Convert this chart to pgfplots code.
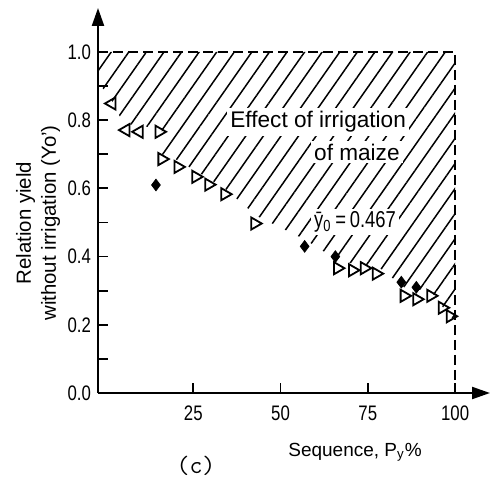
\documentclass[border=0pt]{standalone}
\usepackage{fontspec}
\setmainfont{Liberation Sans}
\newfontfamily\narrowfont[FakeStretch=0.8]{Liberation Sans}
\usepackage{pgfplots}
\pgfplotsset{compat=1.18}
\usetikzlibrary{arrows.meta,patterns.meta}

\begin{document}
\begin{tikzpicture}
\path[use as bounding box] (-49pt,-47pt) rectangle (199.5pt,196.5pt);
\begin{axis}[
    scale only axis, width=196pt, height=192.5pt,
    xmin=-2.3, xmax=110, ymin=0, ymax=1.129,
    axis lines=left,
    axis line style={line width=1.1pt, -{Triangle[length=9pt,width=6pt]}},
    tick align=inside,
    major tick length=5pt, minor tick length=5pt,
    tick style={line width=0.9pt, black},
    xtick={25,50,75,100},
    ytick={0,0.2,0.4,0.6,0.8,1.0},
    minor ytick={0.1,0.3,0.5,0.7,0.9},
    yticklabel style={/pgf/number format/.cd, fixed, fixed zerofill, precision=1},
    /pgf/number format/assume math mode=true,
    ticklabel style={font=\narrowfont\fontsize{10.5}{12}\selectfont},
    xticklabel style={yshift=-3pt},
    clip=false,
]
% hatched area: effect of irrigation
\addplot[draw=none, pattern={Lines[angle=55,distance=7.2pt,line width=0.75pt]}]
    coordinates {(-2.3,1.0)(100,1.0)(100,0.21)(97,0.245)(93,0.30)(86,0.305)(78,0.37)
    (67,0.385)(57,0.45)(43,0.52)(34,0.60)(26,0.65)(20,0.685)(16,0.70)(16,0.775)
    (5,0.79)(1,0.87)(-2.3,0.91)} -- cycle;
% dashed bounds
\addplot[black, line width=0.8pt, dash pattern=on 5pt off 2.5pt]
    coordinates {(-2.3,1.0)(100,1.0)(100,0)};
% left-pointing triangles
\addplot[only marks, mark=triangle, mark size=3.5pt,
    mark options={rotate=90, line width=0.9pt, fill=white}]
    coordinates {(1.7,0.849)(5.7,0.771)(9.5,0.766)};
% right-pointing triangles
\addplot[only marks, mark=triangle, mark size=3.5pt,
    mark options={rotate=-90, line width=0.9pt, fill=white}]
    coordinates {(15.2,0.766)(16,0.686)(20.6,0.663)(25.7,0.634)(29.4,0.611)(34,0.583)
    (42.6,0.497)(66.3,0.366)(70.6,0.36)(74,0.366)(77.4,0.35)
    (85.4,0.285)(89,0.275)(93,0.285)(96.3,0.25)(98.6,0.225)};
% filled diamonds
\addplot[only marks, mark=diamond*, mark size=2.9pt, black]
    coordinates {(14.3,0.61)(56.9,0.43)(65.7,0.40)(84.6,0.325)(88.9,0.31)};
\end{axis}

\node[anchor=west, fill=white, inner sep=1.5pt, font=\fontsize{11.3}{13}\selectfont]
    at (64.5pt,135.5pt) {Effect of irrigation};
\node[anchor=east, fill=white, inner sep=1.5pt, font=\fontsize{11.3}{13}\selectfont]
    at (152.5pt,120.5pt) {of maize};
\node[fill=white, inner sep=1.5pt, font=\narrowfont\fontsize{11.5}{13}\selectfont]
    at (128.5pt,85.5pt) {ȳ\textsubscript{0}\,=\,0.467};
\node[rotate=90, align=center, font=\fontsize{10.2}{12.5}\selectfont]
    at (-30pt,85pt) {Relation yield\\without irrigation (Yo')};
\node[font=\fontsize{9.5}{11}\selectfont] at (128.5pt,-29.5pt) {Sequence, P\textsubscript{y}\%};
\node[font=\ttfamily\fontsize{12.5}{14}\selectfont] at (49pt,-36.5pt) {(c)};
\end{tikzpicture}
\end{document}
